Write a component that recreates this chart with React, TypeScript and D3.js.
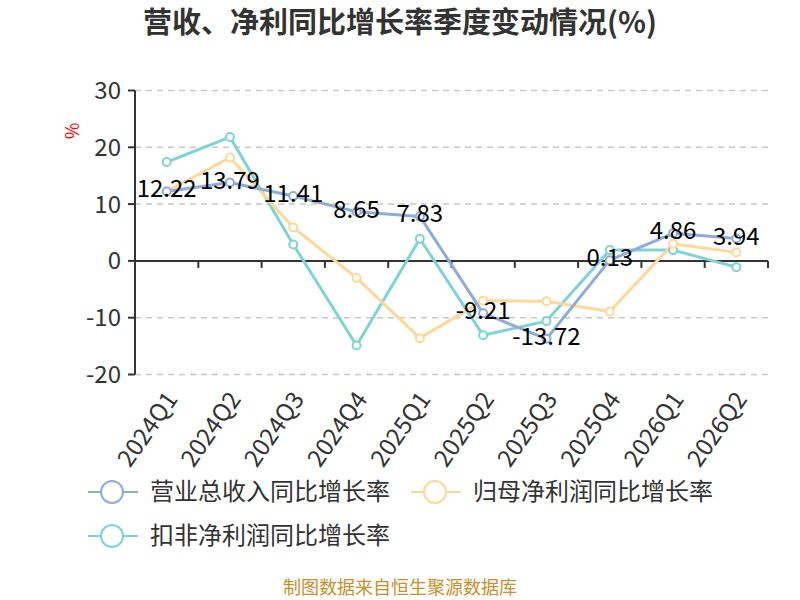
import * as d3 from 'd3';

const quarters = ['2024Q1', '2024Q2', '2024Q3', '2024Q4', '2025Q1', '2025Q2', '2025Q3', '2025Q4', '2026Q1', '2026Q2'];
const revenueGrowth = [12.22, 13.79, 11.41, 8.65, 7.83, -9.21, -13.72, 0.13, 4.86, 3.94];
const netProfitGrowth = [12.2, 18.2, 5.9, -3.0, -13.6, -7.0, -7.1, -8.9, 3.0, 1.5];
const deductedProfitGrowth = [17.4, 21.8, 2.9, -14.9, 3.9, -13.1, -10.6, 1.9, 1.9, -1.1];
const yTicks = [30, 20, 10, 0, -10, -20];

const seriesNames = ['营业总收入同比增长率', '归母净利润同比增长率', '扣非净利润同比增长率'];
const seriesColors = ['#8eabdd', '#ffd899', '#7fd3d6'];

const FONT = '"Noto Sans CJK SC", "Noto Sans", sans-serif';

export default function App() {
    const width = 800;
    const height = 600;
    const margin = { top: 90, right: 32, bottom: 225, left: 135 };
    const chartWidth = width - margin.left - margin.right;

    const xScale = d3.scaleBand()
        .domain(quarters)
        .range([margin.left, margin.left + chartWidth]);

    const yScale = d3.scaleLinear()
        .domain([-20, 30])
        .range([374.5, 90.5]);

    const cx = (q: string) => (xScale(q) || 0) + xScale.bandwidth() / 2;

    const allSeries = [revenueGrowth, netProfitGrowth, deductedProfitGrowth];

    const line = d3.line<number>()
        .x((_, i) => cx(quarters[i]))
        .y(d => yScale(d));

    const zeroY = yScale(0);
    const x0 = margin.left;
    const x1 = margin.left + chartWidth;

    // 边界刻度（类别之间）
    const boundaries = quarters.map(q => xScale(q) || 0).concat([x1]).slice(1);

    const legendPos = [
        { x: 88, y: 492 },
        { x: 411, y: 492 },
        { x: 88, y: 536 },
    ];

    return (
        <svg width={width} height={height} style={{ display: 'block', position: 'absolute', left: 0, top: 0 }}>
            <rect x={0} y={0} width={width} height={height} fill="#ffffff" />
            <text x={400} y={33} textAnchor="middle" fontFamily={FONT} fontSize={29} fontWeight="bold" fill="#333333">
                营收、净利同比增长率季度变动情况(%)
            </text>

            {/* 网格线 */}
            {yTicks.filter(t => t !== 0).map(t => (
                <line key={`g${t}`} x1={x0} x2={x1} y1={yScale(t)} y2={yScale(t)}
                    stroke="#c8c8c8" strokeWidth={1.5} strokeDasharray="6,5" />
            ))}

            {/* Y 轴 */}
            <line x1={x0} x2={x0} y1={yScale(30)} y2={yScale(-20)} stroke="#333333" strokeWidth={2} />
            {yTicks.map(t => (
                <g key={`y${t}`}>
                    <line x1={x0 - 7} x2={x0} y1={yScale(t)} y2={yScale(t)} stroke="#333333" strokeWidth={2} />
                    <text x={x0 - 14} y={yScale(t)} dy="0.35em" textAnchor="end" fontFamily={FONT} fontSize={24} fill="#333333">
                        {t}
                    </text>
                </g>
            ))}
            <text transform={`translate(73,131) rotate(-90)`} textAnchor="middle" dy="0.35em" fontFamily={FONT} fontSize={18} fill="#ff0000">
                %
            </text>

            {/* X 轴（零线） */}
            <line x1={x0} x2={x1} y1={zeroY} y2={zeroY} stroke="#333333" strokeWidth={2} />
            {boundaries.map((b, i) => (
                <line key={`xt${i}`} x1={b} x2={b} y1={zeroY} y2={zeroY + 7} stroke="#333333" strokeWidth={2} />
            ))}
            {quarters.map(q => (
                <text key={`xl${q}`} transform={`translate(${cx(q) + 5},${yScale(-20) + 20}) rotate(-55)`}
                    textAnchor="end" dy="0.35em" fontFamily={FONT} fontSize={24} fill="#333333">
                    {q}
                </text>
            ))}

            {/* 折线 */}
            {allSeries.map((s, si) => (
                <path key={`l${si}`} d={line(s) || ''} fill="none" stroke={seriesColors[si]} strokeWidth={3} strokeLinejoin="round" />
            )).reverse()}
            {allSeries.map((s, si) => (
                <g key={`p${si}`}>
                    {s.map((v, i) => (
                        <circle key={i} cx={cx(quarters[i])} cy={yScale(v)} r={4}
                            fill="#ffffff" stroke={seriesColors[si]} strokeWidth={2} />
                    ))}
                </g>
            )).reverse()}

            {/* 数据标签 */}
            {revenueGrowth.map((v, i) => (
                <text key={`dl${i}`} x={cx(quarters[i])} y={yScale(v) + 6} textAnchor="middle"
                    fontFamily={FONT} fontSize={24} fill="#000000">
                    {v.toFixed(2)}
                </text>
            ))}

            {/* 图例 */}
            {seriesNames.map((name, i) => {
                const { x: lx, y: ly } = legendPos[i];
                return (
                    <g key={`lg${i}`}>
                        <line x1={lx} x2={lx + 50} y1={ly} y2={ly} stroke={seriesColors[i]} strokeWidth={2} />
                        <circle cx={lx + 24} cy={ly} r={11} fill="#ffffff" stroke={seriesColors[i]} strokeWidth={2} />
                        <text x={lx + 62} y={ly} dy="0.35em" fontFamily={FONT} fontSize={24} fill="#333333">
                            {name}
                        </text>
                    </g>
                );
            })}

            <text x={400} y={594} textAnchor="middle" fontFamily={FONT} fontSize={18} fill="#c8902a">
                制图数据来自恒生聚源数据库
            </text>
        </svg>
    );
}
